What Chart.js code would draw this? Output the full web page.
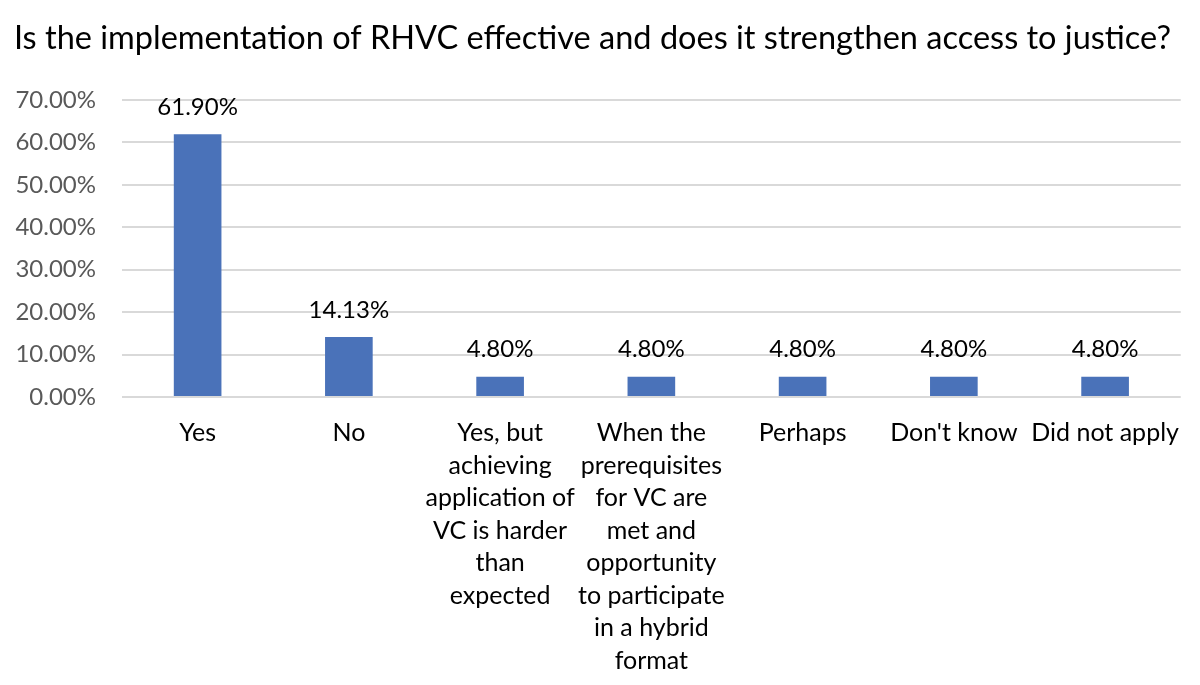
<!DOCTYPE html>
<html>
<head>
<meta charset="utf-8">
<script src="https://cdn.jsdelivr.net/npm/chart.js@4"></script>
<style>
  html, body { margin: 0; padding: 0; background: #ffffff; }
  #wrap { width: 1200px; height: 685px; }
</style>
</head>
<body>
<div id="wrap"><canvas id="grafiku"></canvas></div>
<script>
// Data of the chart
var categories = [
    ["Yes"],
    ["No"],
    ["Yes, but", "achieving", "application of", "VC is harder", "than", "expected"],
    ["When the", "prerequisites", "for VC are", "met and", "opportunity", "to participate", "in a hybrid", "format"],
    ["Perhaps"],
    ["Don't know"],
    ["Did not apply"]
];
var shares = [61.90, 14.13, 4.80, 4.80, 4.80, 4.80, 4.80];
var yTicks = [0, 10, 20, 30, 40, 50, 60, 70];

var fontFamily = "Lato, 'Noto Sans', sans-serif";

// Simple plugin that writes the value above each bar
var valueLabels = {
    id: "valueLabels",
    afterDatasetsDraw: function(chart) {
        var ctx = chart.ctx;
        var meta = chart.getDatasetMeta(0);
        ctx.save();
        ctx.font = "24px " + fontFamily;
        ctx.fillStyle = "#000000";
        ctx.textAlign = "center";
        ctx.textBaseline = "middle";
        meta.data.forEach(function(bar, i) {
            ctx.fillText(shares[i].toFixed(2) + "%", bar.x, bar.y - 27);
        });
        ctx.restore();
    }
};

new Chart(document.getElementById("grafiku"), {
    type: "bar",
    data: {
        labels: categories,
        datasets: [{
            data: shares,
            backgroundColor: "#4A72B9",
            borderWidth: 0,
            barPercentage: 0.63,
            categoryPercentage: 0.5
        }]
    },
    options: {
        responsive: true,
        maintainAspectRatio: false,
        animation: false,
        layout: { padding: { left: 0, right: 15, bottom: 0 } },
        plugins: {
            legend: { display: false },
            tooltip: { enabled: false },
            title: {
                display: true,
                text: "Is the implementation of RHVC effective and does it strengthen access to justice?",
                color: "#000000",
                font: { family: fontFamily, size: 32.5, weight: "normal", lineHeight: 1.2 },
                padding: { top: 19, bottom: 42 }
            }
        },
        scales: {
            x: {
                grid: { display: false, drawTicks: false },
                border: { display: false },
                ticks: {
                    color: "#000000",
                    font: { family: fontFamily, size: 25, lineHeight: 1.3 },
                    padding: 20,
                    maxRotation: 0,
                    autoSkip: false
                },
                afterFit: function(scale) { scale.height = 288; }
            },
            y: {
                min: 0,
                max: 70,
                afterBuildTicks: function(scale) {
                    scale.ticks = yTicks.map(function(v) { return { value: v }; });
                },
                grid: { color: "#d9d9d9", lineWidth: 2, drawTicks: false },
                border: { display: false },
                ticks: {
                    color: "#595959",
                    font: { family: fontFamily, size: 24 },
                    padding: 26,
                    callback: function(v) { return v.toFixed(2) + "%"; }
                },
                afterFit: function(scale) { scale.width = 122; }
            }
        }
    },
    plugins: [valueLabels]
});
</script>
</body>
</html>
